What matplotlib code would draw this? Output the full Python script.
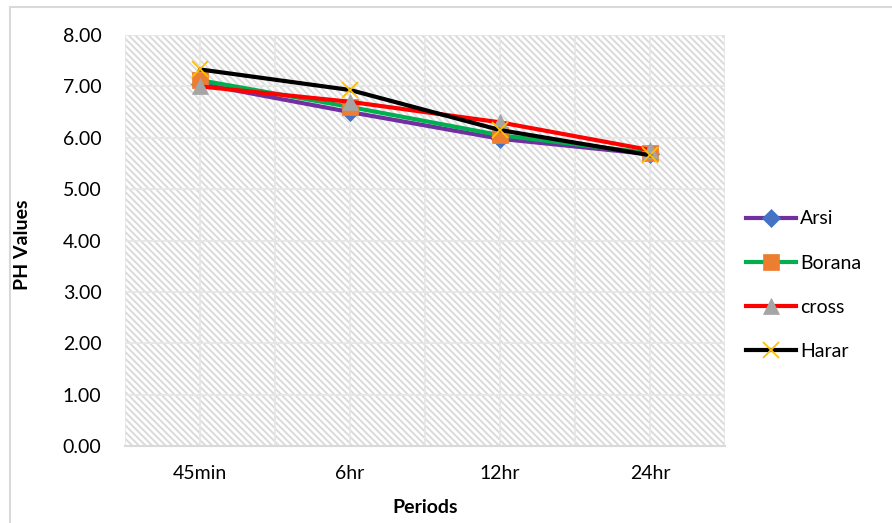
import matplotlib
matplotlib.use("Agg")
import matplotlib.pyplot as plt
from matplotlib.patches import Rectangle
from matplotlib.lines import Line2D

periods = ["45min", "6hr", "12hr", "24hr"]
arsi = [7.05, 6.50, 5.98, 5.68]
borana = [7.12, 6.60, 6.05, 5.70]
cross = [7.00, 6.70, 6.30, 5.76]
harar = [7.33, 6.93, 6.15, 5.66]

y_ticks = [0, 1, 2, 3, 4, 5, 6, 7, 8]

series = [
    ("Arsi", arsi, "#7030A0", "D", "#4472C4", 9),
    ("Borana", borana, "#00B050", "s", "#ED7D31", 11),
    ("cross", cross, "#FF0000", "^", "#A5A5A5", 12),
    ("Harar", harar, "#000000", "x", "#FFC000", 11),
]

plt.rcParams['font.family'] = ['Lato', 'DejaVu Sans']
plt.rcParams['hatch.linewidth'] = 1.4

fig = plt.figure(figsize=(8.92, 5.23), dpi=100)
# chart area border
fig.add_artist(Rectangle((10 / 892, -0.1), 1.2, 1 - 7 / 523 + 0.1, transform=fig.transFigure,
                         fill=False, edgecolor="#d9d9d9", linewidth=1.5))
ax = fig.add_axes([125 / 892, 1 - 446 / 523, 600 / 892, 411 / 523])

x = list(range(len(periods)))
ax.set_xlim(-0.5, len(periods) - 0.5)
ax.set_ylim(0, 8)

ax.add_patch(Rectangle((0, 0), 1, 1, transform=ax.transAxes, facecolor="white",
                       edgecolor="#dadada", hatch="\\" * 5, linewidth=0, zorder=0.2))
ax.set_axisbelow(True)
ax.set_yticks(y_ticks)
ax.set_yticklabels([f"{v:.2f}" for v in y_ticks])
ax.set_xticks(x)
ax.set_xticklabels(periods)
ax.set_xticks([i - 0.5 for i in range(len(periods) + 1)], minor=True)
ax.grid(axis="y", color="#e6e6e6", linewidth=1.3)
ax.grid(axis="x", which="both", color="#e6e6e6", linewidth=1.3)
ax.tick_params(which="both", length=0)
ax.tick_params(axis="y", pad=17, labelsize=14, colors="#000000")
ax.tick_params(axis="x", pad=14, labelsize=14)
for s in ["top", "right", "left"]:
    ax.spines[s].set_visible(False)
ax.spines["bottom"].set_color("#d9d9d9")
ax.spines["bottom"].set_linewidth(1.5)

handles = []
for name, vals, lc, mk, mc, ms in series:
    if mk == "x":
        ax.plot(x, vals, color=lc, linewidth=3.0, marker=mk, markersize=ms,
                markeredgecolor=mc, markeredgewidth=1.3, zorder=3)
        h = Line2D([], [], color=lc, linewidth=3.0, marker=mk, markersize=ms,
                   markeredgecolor=mc, markeredgewidth=1.3)
    else:
        ax.plot(x, vals, color=lc, linewidth=3.0, marker=mk, markersize=ms,
                markerfacecolor=mc, markeredgecolor=mc, markeredgewidth=0.5, zorder=3)
        h = Line2D([], [], color=lc, linewidth=3.0, marker=mk, markersize=ms,
                   markerfacecolor=mc, markeredgecolor=mc, markeredgewidth=0.5)
    handles.append(h)

ax.set_ylabel("PH Values", fontsize=14, fontweight="bold")
ax.set_xlabel("Periods", fontsize=14, fontweight="bold", labelpad=12)
ax.yaxis.set_label_coords(-(125 - 31) / 600, 0.49)

fig.legend(handles, [s[0] for s in series], loc="upper left",
           bbox_to_anchor=(728 / 892, 1 - 193 / 523), frameon=False, fontsize=14,
           handlelength=2.6, labelspacing=1.4, handletextpad=0.2)

fig.savefig("out.png", dpi=100)
